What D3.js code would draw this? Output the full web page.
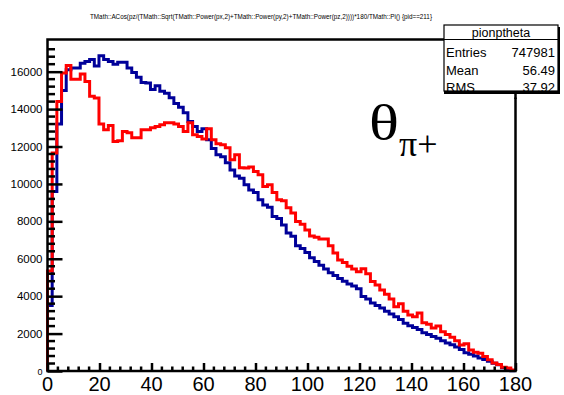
<!DOCTYPE html>
<html><head><meta charset="utf-8">
<script src="https://cdn.jsdelivr.net/npm/d3@7"></script>
<style>html,body{margin:0;padding:0;background:#fff;}svg{display:block;}</style>
</head><body>
<script>
// ---- data ----
const xEdges = [0, 180];            // histogram range (degrees)
const nBins = 100;
const blueValues = [3500,9600,13200,15000,16100,16200,16200,16450,16550,16650,
 16300,16850,16650,16550,16400,16500,16500,16200,15950,15700,
 15420,15400,15050,15250,14950,14850,14600,14300,14100,13800,
 13340,13070,12800,12950,12360,11900,11560,11450,11130,10750,
 10430,10300,9950,9680,9540,9150,8880,8750,8260,8150,
 7810,7380,7200,6690,6550,6330,6050,5850,5650,5450,
 5250,5100,4950,4800,4650,4550,4400,3980,3850,3630,
 3500,3370,3200,3050,2900,2750,2550,2420,2320,2220,
 2050,1950,1850,1750,1620,1500,1400,1280,1150,980,
 900,800,700,620,520,420,330,180,60,10];
const redValues = [5350,11650,14400,15930,16330,15600,15600,15870,15480,14680,
 14590,13200,12900,13120,12270,12310,12800,12730,12470,12470,
 12900,12900,13000,13070,13160,13270,13270,13200,13070,12800,
 13270,12630,12540,12400,12950,12360,12150,12100,11930,11290,
 11560,10860,10850,10900,10660,10490,9860,9950,9540,9150,
 9100,8720,8450,7990,7850,7540,7220,7150,7060,7060,
 6690,6310,5940,5800,5600,5450,5310,5460,5200,4780,
 4600,4330,4100,3850,3440,3600,3200,3000,2900,3100,
 2580,2500,2300,2400,2100,1950,1800,1620,1390,1450,
 1120,1000,950,770,600,430,350,200,160,60];
const xTickValues = [0,20,40,60,80,100,120,140,160,180];
const yTickValues = [0,2000,4000,6000,8000,10000,12000,14000,16000];
const titleText = "TMath::ACos(pz/(TMath::Sqrt(TMath::Power(px,2)+TMath::Power(py,2)+TMath::Power(pz,2))))*180/TMath::Pi() {pid==211}";
const statsName = "pionptheta";
const statsLabels = ["Entries","Mean","RMS"];
const statsValues = ["747981","56.49","37.92"];

// ---- layout ----
const W = 564, H = 395;
const fx0 = 47.5, fx1 = 515.5, fy0 = 39.5, fy1 = 371;
const svg = d3.select("body").append("svg").attr("width", W).attr("height", H);

const x = d3.scaleLinear().domain(xEdges).range([fx0, fx1]);
const y = d3.scaleLinear().domain([0, 17720]).range([fy1, fy0]);

const binW = (xEdges[1]-xEdges[0]) / nBins;
function histPts(vals){
  const pts = [[xEdges[0], 0]];
  vals.forEach((v,i)=>pts.push([xEdges[0]+i*binW, v]));
  pts.push([xEdges[1], vals[vals.length-1]]);
  pts.push([xEdges[1], 0]);
  return pts;
}
const line = d3.line().x(d=>x(d[0])).y(d=>y(d[1])).curve(d3.curveStepAfter);

// title
svg.append("text").attr("x", 261).attr("y", 18.5).attr("text-anchor","middle")
  .attr("font-family","Liberation Sans, Arial, sans-serif").attr("font-size", 8)
  .attr("textLength", 342).attr("lengthAdjust","spacingAndGlyphs").text(titleText);

// histograms
svg.append("path").attr("d", line(histPts(blueValues))).attr("fill","none")
  .attr("stroke","#000099").attr("stroke-width",3).attr("stroke-linejoin","miter");
svg.append("path").attr("d", line(histPts(redValues))).attr("fill","none")
  .attr("stroke","#ff0000").attr("stroke-width",3).attr("stroke-linejoin","miter");

// frame
svg.append("rect").attr("x", fx0).attr("y", fy0).attr("width", fx1-fx0).attr("height", fy1-fy0)
  .attr("fill","none").attr("stroke","#000").attr("stroke-width",2.5);

// y axis ticks (inward)
const yAxis = d3.axisRight(y).tickValues(yTickValues).tickSize(15).tickFormat("");
const gy = svg.append("g").attr("transform",`translate(${fx0},0)`).call(yAxis);
const yMinor = d3.range(0, 17600, 400).filter(v=>v%2000!==0);
gy.selectAll(".minor").data(yMinor).enter().append("line").attr("class","minor")
  .attr("x1",0).attr("x2",7.5).attr("y1",d=>y(d)).attr("y2",d=>y(d));
gy.select(".domain").remove();
gy.selectAll("line").attr("stroke","#000").attr("stroke-width",2.5);

// y labels
svg.append("g").selectAll("text").data(yTickValues).enter().append("text")
  .attr("x", 42.5).attr("y", d=>y(d)+4).attr("text-anchor","end")
  .attr("font-family","Liberation Sans Narrow, Liberation Sans, Arial, sans-serif")
  .attr("font-size", d=>d===0?9:11.5).text(d=>d);

// x axis ticks (inward, upward)
const xAxis = d3.axisTop(x).tickValues(xTickValues).tickSize(8).tickFormat("");
const gx = svg.append("g").attr("transform",`translate(0,${fy1})`).call(xAxis);
const xMinor = d3.range(0, 181, 4).filter(v=>v%20!==0);
gx.selectAll(".minor").data(xMinor).enter().append("line").attr("class","minor")
  .attr("x1",d=>x(d)).attr("x2",d=>x(d)).attr("y1",0).attr("y2",-4.5);
gx.select(".domain").remove();
gx.selectAll("line").attr("stroke","#000").attr("stroke-width",2.5);

// x labels
svg.append("g").selectAll("text").data(xTickValues).enter().append("text")
  .attr("x", d=>x(d)).attr("y", 391).attr("text-anchor","middle")
  .attr("font-family","Liberation Sans Narrow, Liberation Sans, Arial, sans-serif")
  .attr("font-size", 20).text(d=>d);

// theta label
svg.append("text").attr("transform","translate(369,140) scale(1.25,1)")
  .attr("font-family","Liberation Serif, Times New Roman, serif")
  .attr("font-size", 50).text("\u03B8");
svg.append("text").attr("x", 399).attr("y", 156)
  .attr("font-family","Liberation Serif, Times New Roman, serif")
  .attr("font-size", 36).text("\u03C0+");

// stats box
const sb = {x:444, y:25, w:114, h:66};
svg.append("rect").attr("x", sb.x+2).attr("y", sb.y+2).attr("width", sb.w).attr("height", sb.h).attr("fill","#000");
svg.append("rect").attr("x", sb.x).attr("y", sb.y).attr("width", sb.w).attr("height", sb.h)
  .attr("fill","#fff").attr("stroke","#000").attr("stroke-width",1.2);
svg.append("line").attr("x1", sb.x).attr("x2", sb.x+sb.w).attr("y1", 39.5).attr("y2", 39.5)
  .attr("stroke","#000").attr("stroke-width",1.2);
svg.append("text").attr("x", sb.x+sb.w/2).attr("y", 36.5).attr("text-anchor","middle")
  .attr("font-family","Liberation Sans Narrow, Liberation Sans, Arial, sans-serif").attr("font-size", 12.5).text(statsName);
const rowsY = [57, 74.5, 91.5];
statsLabels.forEach((l,i)=>{
  svg.append("text").attr("x", sb.x+2).attr("y", rowsY[i])
    .attr("font-family","Liberation Sans Narrow, Liberation Sans, Arial, sans-serif").attr("font-size", 13).text(l);
  svg.append("text").attr("x", sb.x+sb.w-3).attr("y", rowsY[i]).attr("text-anchor","end")
    .attr("font-family","Liberation Sans Narrow, Liberation Sans, Arial, sans-serif").attr("font-size", 13).text(statsValues[i]);
});
// cover the clipped bottom of the last row with border
svg.append("rect").attr("x", sb.x).attr("y", sb.y+sb.h+0.5).attr("width", sb.w+2).attr("height", 6).attr("fill","#fff");
svg.append("line").attr("x1", sb.x).attr("x2", sb.x+sb.w+2).attr("y1", sb.y+sb.h+1.5).attr("y2", sb.y+sb.h+1.5)
  .attr("stroke","#000").attr("stroke-width",3);
svg.append("line").attr("x1", fx1).attr("x2", fx1).attr("y1", sb.y+sb.h+3).attr("y2", sb.y+sb.h+8)
  .attr("stroke","#000").attr("stroke-width",2.5);
</script>
</body></html>
